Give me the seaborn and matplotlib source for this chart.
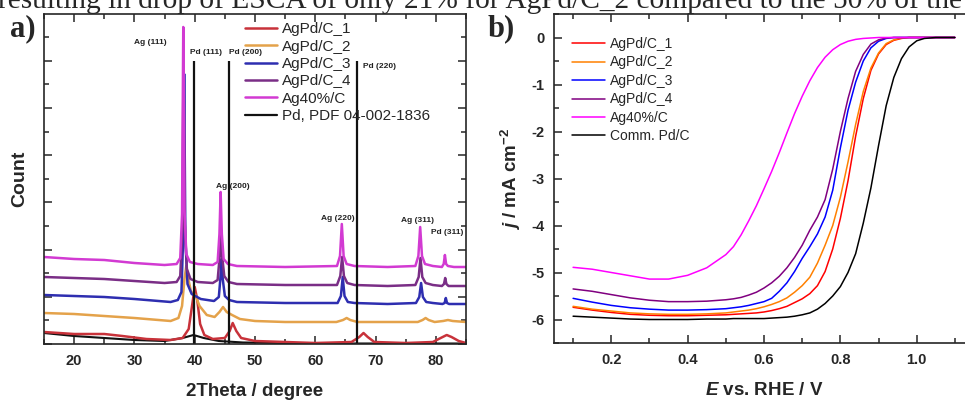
import numpy as np
import pandas as pd
import matplotlib
matplotlib.use("Agg")
import matplotlib.pyplot as plt
import seaborn as sns
from matplotlib.ticker import MultipleLocator

# ---------------- data: panel a (XRD) ----------------
xrd_labels = ["AgPd/C_1", "AgPd/C_2", "AgPd/C_3", "AgPd/C_4", "Ag40%/C", "Pd, PDF 04-002-1836"]

ag40_x = [15, 20, 25, 30, 35, 37.0, 37.6, 37.9, 38.1, 38.3, 38.6, 39.2, 40.5, 43.0, 43.8, 44.1, 44.3, 44.5, 44.8, 45.5, 47.0,
          55.0, 63.6, 64.1, 64.4, 64.7, 65.2, 66.5, 72.0, 76.6, 77.1, 77.4, 77.7, 78.2, 79.5, 81.0, 81.3, 81.5, 81.7, 82.0, 83.0, 85.0]
ag40_y = [87, 85, 84, 81, 79, 80, 86, 130, 317, 135, 90, 82, 80, 79, 82, 110, 152, 110, 85, 80, 78,
          77, 78, 88, 120, 88, 80, 78, 77, 78, 88, 117, 88, 80, 78, 77, 80, 89, 80, 78, 77, 77]

c4_x = [15, 20, 25, 30, 35, 37.0, 37.6, 37.95, 38.15, 38.35, 38.7, 39.3, 40.5, 43.0, 43.8, 44.15, 44.35, 44.55, 44.9, 45.6, 47,
        55, 63.6, 64.15, 64.45, 64.75, 65.3, 66.5, 72, 76.6, 77.15, 77.45, 77.75, 78.3, 79.5, 81.0, 81.35, 81.55, 81.75, 82.1, 83, 85]
c4_y = [67, 66, 65, 63, 61, 62, 68, 115, 290, 120, 75, 65, 62, 61, 64, 88, 110, 88, 68, 62, 60,
        59, 59, 68, 87, 68, 61, 59, 58, 59, 67, 86, 67, 61, 59, 58, 60, 66, 60, 58, 58, 58]

c3_x = [15, 20, 25, 30, 36, 37.2, 37.8, 38.05, 38.25, 38.45, 38.8, 39.5, 41.0, 43.2, 44.0, 44.25, 44.45, 44.65, 45.0, 45.7, 47,
        55, 63.7, 64.25, 64.55, 64.85, 65.4, 66.5, 72, 76.7, 77.25, 77.55, 77.85, 78.4, 79.5, 81.1, 81.45, 81.65, 81.85, 82.2, 83, 85]
c3_y = [49, 48, 47, 45, 42, 44, 52, 100, 270, 105, 60, 50, 45, 43, 47, 65, 85, 65, 48, 44, 42,
        41, 41, 48, 67, 48, 42, 41, 40, 41, 47, 61, 47, 42, 41, 40, 41, 46, 41, 40, 40, 40]

c2_x = [15, 20, 25, 30, 36, 37.3, 37.9, 38.3, 38.6, 38.9, 39.4, 40.1, 40.8, 42.0, 43.3, 44.1, 44.7, 45.3, 46.2, 47.5, 50, 55,
        63.5, 64.6, 65.2, 65.8, 67, 72, 77.0, 77.8, 78.3, 78.8, 79.8, 81.2, 82.0, 82.8, 85]
c2_y = [31, 30, 28, 26, 23, 26, 38, 65, 78, 66, 52, 49, 38, 29, 27, 32, 37, 32, 29, 25, 23, 22,
        22, 24, 26, 24, 22, 22, 22, 24, 26, 24, 22, 23, 24, 23, 22]

c1_x = [15, 20, 25, 28, 32, 36, 38.0, 39.0, 39.6, 40.0, 40.4, 40.9, 41.6, 43.0, 45.0, 45.8, 46.3, 46.9, 47.7, 50, 55, 60,
        66.0, 67.3, 68.0, 68.7, 69.8, 75, 79.5, 80.8, 81.8, 82.6, 83.8, 85]
c1_y = [12, 10, 10, 8, 5, 4, 6, 15, 40, 57, 45, 20, 9, 5, 6, 13, 21, 13, 6, 3, 2, 1,
        2, 7, 11, 7, 2, 1, 2, 6, 9, 7, 3, 1]

pdc_x = [15, 20, 25, 30, 35, 38, 39.8, 41.5, 44, 48, 55, 65, 85]
pdc_y = [11, 8, 6, 4, 3, 6, 9, 6, 3, 1.5, 1, 0.5, 0.5]

pd_pos = [39.8, 45.7, 67.0]
pd_int = [283, 283, 283]

peak_text = ["Ag (111)", "Pd (111)", "Pd (200)", "Pd (220)", "Ag (200)", "Ag (220)", "Ag (311)", "Pd (311)"]
peak_tx = [32.7, 41.8, 48.5, 70.7, 46.3, 63.8, 77.0, 81.8]
peak_ty = [301, 291, 291, 278, 157, 125, 124, 111]

# ---------------- data: panel b (LSV) ----------------
lsv_labels = ["AgPd/C_1", "AgPd/C_2", "AgPd/C_3", "AgPd/C_4", "Ag40%/C", "Comm. Pd/C"]
E = [0.10, 0.15, 0.20, 0.25, 0.30, 0.35, 0.40, 0.45, 0.50, 0.52, 0.54, 0.56, 0.58, 0.60, 0.62, 0.64, 0.66, 0.68,
     0.70, 0.72, 0.74, 0.76, 0.78, 0.80, 0.82, 0.84, 0.86, 0.88, 0.90, 0.92, 0.94, 0.96, 0.98, 1.00, 1.02, 1.05, 1.10]
j_c1 = [-5.74, -5.80, -5.85, -5.89, -5.91, -5.92, -5.92, -5.91, -5.90, -5.89, -5.88, -5.87, -5.86, -5.84, -5.81, -5.77, -5.72, -5.64,
        -5.56, -5.45, -5.28, -4.98, -4.50, -3.85, -3.05, -2.10, -1.30, -0.70, -0.35, -0.15, -0.06, -0.02, 0.0, 0.0, 0.0, 0.0, 0.0]
j_c2 = [-5.72, -5.78, -5.82, -5.86, -5.88, -5.89, -5.89, -5.88, -5.86, -5.84, -5.82, -5.80, -5.77, -5.73, -5.68, -5.62, -5.54, -5.42,
        -5.28, -5.10, -4.80, -4.42, -4.00, -3.40, -2.65, -1.85, -1.15, -0.65, -0.33, -0.13, -0.05, -0.01, 0.0, 0.0, 0.0, 0.0, 0.0]
j_c3 = [-5.55, -5.63, -5.70, -5.75, -5.78, -5.80, -5.80, -5.79, -5.77, -5.75, -5.73, -5.70, -5.66, -5.62, -5.55, -5.40, -5.22, -4.98,
        -4.70, -4.45, -4.18, -3.82, -3.25, -2.35, -1.55, -0.95, -0.50, -0.22, -0.08, -0.02, 0.0, 0.0, 0.0, 0.0, 0.0, 0.0, 0.0]
j_c4 = [-5.35, -5.40, -5.47, -5.54, -5.59, -5.62, -5.62, -5.61, -5.58, -5.56, -5.53, -5.48, -5.42, -5.33, -5.22, -5.08, -4.90, -4.68,
        -4.42, -4.10, -3.82, -3.45, -2.80, -2.00, -1.30, -0.72, -0.36, -0.14, -0.05, -0.01, 0.0, 0.0, 0.0, 0.0, 0.0, 0.0, 0.0]
j_ag = [-4.89, -4.93, -5.00, -5.07, -5.14, -5.14, -5.06, -4.90, -4.62, -4.45, -4.20, -3.90, -3.58, -3.22, -2.85, -2.45, -2.03, -1.62,
        -1.25, -0.92, -0.64, -0.42, -0.26, -0.15, -0.08, -0.04, -0.02, -0.01, 0.0, 0.0, 0.0, 0.0, 0.0, 0.0, 0.0, 0.0, 0.0]
j_pd = [-5.93, -5.95, -5.97, -5.99, -6.00, -6.00, -6.00, -5.99, -5.99, -5.98, -5.98, -5.98, -5.98, -5.98, -5.97, -5.96, -5.95, -5.93,
        -5.90, -5.86, -5.78, -5.66, -5.50, -5.30, -5.00, -4.60, -3.95, -3.20, -2.30, -1.45, -0.85, -0.45, -0.20, -0.07, -0.02, 0.0, 0.0]

top_text = "resulting in drop of ESCA of only 21% for AgPd/C_2 compared to the 50% of the electrode"

# ---------------- style ----------------
sns.set_style("ticks")
plt.rcParams["font.family"] = ["Liberation Sans", "DejaVu Sans"]
plt.rcParams["axes.unicode_minus"] = False
plt.rcParams["mathtext.fontset"] = "custom"
plt.rcParams["mathtext.rm"] = "Liberation Sans:bold"
plt.rcParams["mathtext.it"] = "Liberation Sans:italic:bold"
plt.rcParams["mathtext.bf"] = "Liberation Sans:bold"

fig = plt.figure(figsize=(9.65, 4.01), dpi=100)
W, H = 965, 401

def fr(x0, y0, x1, y1):
    return [x0 / W, 1 - y1 / H, (x1 - x0) / W, (y1 - y0) / H]

axa = fig.add_axes(fr(44, 14, 466, 344))
axb = fig.add_axes(fr(554, 14, 974, 343))

# ---- panel a ----
xrd_cols = ["#c8323a", "#e4a24a", "#2e2eb0", "#7a2e86", "#d23ad2", "#111111"]
sns.lineplot(x=pdc_x, y=pdc_y, ax=axa, color=xrd_cols[5], lw=1.5, sort=False, estimator=None)
series = [(c1_x, c1_y), (c2_x, c2_y), (c3_x, c3_y), (c4_x, c4_y), (ag40_x, ag40_y)]
for (xs, ys), col, lab in zip(series, xrd_cols[:5], xrd_labels[:5]):
    sns.lineplot(x=xs, y=ys, ax=axa, color=col, lw=1.8, sort=False, estimator=None, label=lab)
axa.vlines(pd_pos, 0, pd_int, color="#111111", lw=1.6)
axa.plot([], [], color="#111111", lw=1.6, label=xrd_labels[5])
for t, tx, ty in zip(peak_text, peak_tx, peak_ty):
    axa.text(tx, ty, t, fontsize=6, fontweight="bold", ha="center", va="center", color="#222222")

axa.set_xlim(15, 85)
axa.set_ylim(0, 330)
axa.xaxis.set_major_locator(MultipleLocator(10))
axa.xaxis.set_minor_locator(MultipleLocator(5))
axa.yaxis.set_major_locator(MultipleLocator(47.2))
axa.yaxis.set_minor_locator(MultipleLocator(23.6))
axa.tick_params(which="both", direction="in", top=True, right=True, width=1.1, labelsize=10.5, pad=7)
axa.tick_params(which="major", length=6)
axa.tick_params(which="minor", length=3.5)
axa.set_yticklabels([])
for lab in axa.get_xticklabels():
    lab.set_fontweight("bold")
axa.set_xlabel("2Theta / degree", fontsize=13.5, fontweight="bold", labelpad=11)
axa.set_ylabel("Count", fontsize=14, fontweight="bold", labelpad=4)
for s in axa.spines.values():
    s.set_linewidth(1.2)
axa.legend(loc="upper left", bbox_to_anchor=(0.476, 0.975), frameon=False, fontsize=11,
           handlelength=2.1, handletextpad=0.35, labelspacing=0.22, borderpad=0, borderaxespad=0)

# ---- panel b ----
lsv_cols = ["#ff0000", "#ff8000", "#0000ff", "#800080", "#ff00ff", "#000000"]
lsv_data = [j_c1, j_c2, j_c3, j_c4, j_ag, j_pd]
for js, col, lab in zip(lsv_data, lsv_cols, lsv_labels):
    sns.lineplot(x=E, y=js, ax=axb, color=col, lw=1.1, sort=False, estimator=None, label=lab)
axb.set_xlim(0.05, 1.15)
axb.set_ylim(-6.5, 0.5)
axb.xaxis.set_major_locator(MultipleLocator(0.2))
axb.xaxis.set_minor_locator(MultipleLocator(0.1))
axb.yaxis.set_major_locator(MultipleLocator(1))
axb.yaxis.set_minor_locator(MultipleLocator(0.5))
axb.tick_params(which="both", direction="in", top=True, right=True, width=1.1, labelsize=10.5, pad=7)
axb.tick_params(which="major", length=6)
axb.tick_params(which="minor", length=3.5)
axb.set_xticks([0.2, 0.4, 0.6, 0.8, 1.0])
axb.set_xticklabels(["0.2", "0.4", "0.6", "0.8", "1.0"])
axb.set_yticks([0, -1, -2, -3, -4, -5, -6])
axb.set_yticklabels(["0", "-1", "-2", "-3", "-4", "-5", "-6"])
for lab in axb.get_xticklabels() + axb.get_yticklabels():
    lab.set_fontweight("bold")
axb.set_xlabel(r"$E$ vs. RHE / V", fontsize=13.5, fontweight="bold", labelpad=11)
axb.set_ylabel(r"$j$ / mA cm$^{-2}$", fontsize=13.5, fontweight="bold", labelpad=6)
for s in axb.spines.values():
    s.set_linewidth(1.2)
axb.legend(loc="upper left", bbox_to_anchor=(0.043, 0.93), frameon=False, fontsize=10,
           handlelength=2.4, handletextpad=0.35, labelspacing=0.32, borderpad=0, borderaxespad=0)

# ---- figure texts ----
fig.text(10 / W, 1 - 36 / H, "a)", fontsize=22, fontweight="bold", family="Liberation Serif", va="baseline")
fig.text(488 / W, 1 - 36 / H, "b)", fontsize=22, fontweight="bold", family="Liberation Serif", va="baseline")
fig.text(-2 / W, 1 - 8 / H, top_text, fontsize=21.2, family="Liberation Serif", va="baseline", ha="left")

fig.savefig("out.png", dpi=100)
